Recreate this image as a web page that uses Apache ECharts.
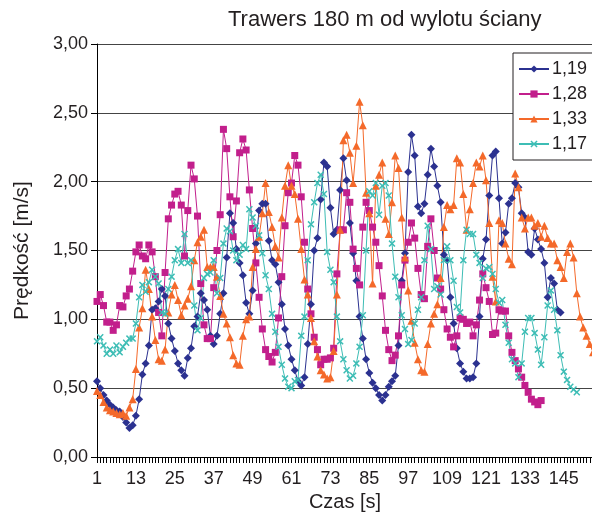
<!DOCTYPE html>
<html>
<head>
<meta charset="utf-8">
<script src="https://cdn.jsdelivr.net/npm/echarts@6/dist/echarts.min.js"></script>
<style>
  html, body { margin: 0; padding: 0; background: #fff; }
  #chart { width: 592px; height: 515px; }
</style>
</head>
<body>
<div id="chart"></div>
<script>
// dane - prędkość [m/s] w kolejnych sekundach
var s119 = [0.55, 0.50, 0.45, 0.41, 0.38, 0.36, 0.34, 0.33, 0.29, 0.25,
  0.21, 0.23, 0.30, 0.42, 0.60, 0.68, 0.81, 1.07, 1.08, 1.13,
  1.22, 1.17, 0.97, 0.86, 0.77, 0.68, 0.63, 0.59, 0.72, 0.79,
  0.95, 1.02, 1.19, 1.14, 1.07, 0.88, 0.82, 0.88, 1.04, 1.19,
  1.45, 1.77, 1.70, 1.51, 1.41, 1.32, 1.12, 1.04, 1.21, 1.55,
  1.79, 1.84, 1.84, 1.57, 1.43, 1.40, 1.27, 1.11, 0.93, 0.81,
  0.71, 0.63, 0.55, 0.52, 0.58, 0.82, 1.11, 1.50, 1.59, 1.87,
  2.14, 2.11, 1.81, 1.62, 1.65, 1.94, 2.17, 2.01, 1.70, 1.48,
  1.28, 1.02, 0.86, 0.71, 0.61, 0.54, 0.50, 0.45, 0.41, 0.45,
  0.51, 0.55, 0.59, 0.81, 1.28, 1.48, 2.07, 2.34, 2.19, 1.82,
  1.77, 1.84, 2.05, 2.24, 2.11, 1.97, 1.85, 1.47, 1.43, 1.16,
  0.97, 0.79, 0.68, 0.62, 0.57, 0.57, 0.58, 0.68, 1.02, 1.44,
  1.58, 1.90, 2.19, 2.22, 1.88, 1.55, 1.63, 1.84, 1.88, 1.99,
  1.96, 1.77, 1.74, 1.49, 1.47, 1.66, 1.58, 1.51, 1.41, 1.16,
  1.30, 1.26, 1.07, 1.05];

var s128 = [1.13, 1.18, 1.10, 0.98, 0.98, 0.92, 0.96, 1.10, 1.09, 1.17,
  1.22, 1.35, 1.49, 1.54, 1.46, 1.44, 1.54, 1.49, 1.31, 1.05,
  0.88, 1.34, 1.73, 1.83, 1.91, 1.93, 1.83, 1.46, 1.79, 2.12,
  2.02, 1.75, 1.26, 0.96, 0.86, 0.86, 1.23, 1.50, 1.76, 2.38,
  2.24, 1.89, 1.60, 1.86, 2.21, 2.31, 2.23, 1.94, 1.66, 1.41,
  1.16, 0.93, 0.78, 0.73, 0.69, 0.76, 1.01, 1.31, 1.68, 1.92,
  1.99, 2.19, 2.12, 1.89, 1.56, 1.22, 1.04, 0.87, 0.78, 0.67,
  0.71, 0.71, 0.72, 0.79, 1.33, 1.65, 1.65, 1.92, 1.85, 1.51,
  1.37, 1.25, 1.67, 1.85, 1.79, 1.67, 1.56, 1.39, 1.17, 0.92,
  0.78, 0.70, 0.74, 0.88, 1.25, 1.43, 1.56, 1.70, 1.59, 1.37,
  1.18, 1.15, 1.53, 1.73, 1.50, 1.30, 1.22, 1.07, 0.93, 0.87,
  0.80, 0.88, 1.01, 1.00, 0.97, 0.98, 0.88, 0.96, 1.14, 1.33,
  1.23, 1.13, 0.89, 0.90, 1.07, 1.06, 1.06, 0.88, 0.76, 0.70,
  0.64, 0.58, 0.52, 0.47, 0.42, 0.40, 0.38, 0.41];

var s133 = [0.48, 0.45, 0.40, 0.36, 0.34, 0.33, 0.32, 0.31, 0.32, 0.30,
  0.36, 0.42, 0.64, 0.94, 1.08, 1.36, 1.22, 1.02, 0.85, 0.71,
  0.70, 0.78, 1.05, 1.18, 1.25, 1.14, 1.03, 1.10, 1.15, 1.24,
  1.43, 1.56, 1.60, 1.65, 1.38, 1.38, 1.38, 1.31, 1.17, 1.04,
  0.97, 0.87, 0.74, 0.68, 0.67, 0.88, 1.00, 1.02, 1.38, 1.51,
  1.60, 1.77, 1.99, 1.78, 1.67, 1.53, 1.45, 1.74, 1.97, 2.12,
  1.97, 1.91, 1.73, 1.51, 1.29, 1.18, 1.01, 0.84, 0.73, 0.63,
  0.60, 0.57, 0.58, 0.77, 1.18, 1.65, 2.30, 2.34, 2.21, 1.99,
  2.26, 2.58, 2.41, 1.92, 1.77, 1.26, 1.97, 2.05, 2.14, 1.73,
  1.62, 1.85, 2.19, 2.10, 1.74, 1.45, 1.21, 0.99, 0.83, 0.71,
  0.63, 0.62, 0.82, 0.97, 1.04, 1.11, 1.30, 1.67, 1.83, 1.80,
  1.83, 2.17, 2.14, 1.91, 1.65, 1.80, 1.99, 2.14, 2.11, 2.19,
  2.01, 1.70, 1.31, 1.13, 1.72, 1.70, 1.55, 1.44, 1.40, 2.06,
  1.96, 1.74, 1.66, 1.74, 1.74, 1.68, 1.70, 1.60, 1.68, 1.59,
  1.55, 1.55, 1.43, 1.38, 1.30, 1.49, 1.55, 1.45, 1.19, 1.02,
  0.94, 0.88, 0.82, 0.76];

var s117 = [0.84, 0.87, 0.81, 0.75, 0.78, 0.75, 0.81, 0.76, 0.80, 0.83,
  0.86, 0.86, 0.97, 1.16, 1.25, 1.20, 1.27, 1.36, 1.31, 1.26,
  1.05, 1.04, 1.22, 1.31, 1.43, 1.51, 1.41, 1.62, 1.41, 1.43,
  1.10, 0.92, 1.01, 1.30, 1.33, 1.34, 1.43, 1.19, 1.30, 1.55,
  1.66, 1.64, 1.50, 1.43, 1.47, 1.54, 1.51, 1.80, 1.74, 1.68,
  1.61, 1.48, 1.32, 1.22, 1.04, 0.91, 0.80, 0.67, 0.57, 0.51,
  0.50, 0.55, 0.56, 0.88, 1.02, 1.43, 1.69, 1.85, 1.99, 2.05,
  1.91, 1.49, 1.36, 1.27, 1.02, 0.84, 0.71, 0.63, 0.57, 0.59,
  0.68, 0.80, 1.03, 1.50, 1.93, 1.90, 1.99, 1.76, 1.97, 1.99,
  1.90, 1.55, 1.31, 1.16, 1.03, 0.93, 0.82, 0.85, 0.97, 1.07,
  1.16, 1.43, 1.68, 1.51, 1.22, 1.24, 1.18, 1.43, 1.53, 1.43,
  1.28, 1.09, 1.05, 1.43, 1.65, 1.62, 1.62, 1.47, 1.41, 1.30,
  1.37, 1.38, 1.33, 1.22, 1.12, 1.14, 0.96, 0.83, 0.71, 0.68,
  0.58, 0.68, 0.91, 1.01, 1.01, 0.90, 0.78, 0.67, 0.87, 1.10,
  1.21, 1.07, 0.92, 0.74, 0.62, 0.56, 0.51, 0.49, 0.47];

var seriesNames = ['1,19', '1,28', '1,33', '1,17'];
var yTicks = [0, 0.5, 1, 1.5, 2, 2.5, 3];

// oś czasu 1..154 s
var czas = [];
for (var i = 1; i <= 154; i++) {
  czas.push(String(i));
}

var fontName = '"Liberation Sans", Arial, sans-serif';
var txtColor = '#231f20';
var crossPath = 'path://M0,1.5L1.5,0L5,3.5L8.5,0L10,1.5L6.5,5L10,8.5L8.5,10L5,6.5L1.5,10L0,8.5L3.5,5Z';

function liniaOpt(name, data, color, symbol, size) {
  return {
    name: name,
    type: 'line',
    data: data,
    symbol: symbol,
    symbolSize: size,
    showAllSymbol: true,
    lineStyle: { color: color, width: 1 },
    itemStyle: { color: color },
    emphasis: { disabled: true }
  };
}

var chart = echarts.init(document.getElementById('chart'));
var option = {
  animation: false,
  backgroundColor: '#fff',
  textStyle: { fontFamily: fontName, color: txtColor },
  title: {
    text: 'Trawers 180 m od wylotu ściany',
    left: 228,
    top: 9,
    padding: 0,
    textStyle: { fontFamily: fontName, fontSize: 22, fontWeight: 'normal', color: txtColor }
  },
  legend: {
    orient: 'vertical',
    left: 513,
    top: 53,
    padding: [7, 60, 7, 5],
    itemWidth: 30,
    itemHeight: 9,
    itemGap: 7,
    borderColor: '#231f20',
    borderWidth: 1,
    backgroundColor: '#fff',
    data: seriesNames,
    textStyle: { fontFamily: fontName, fontSize: 18, color: txtColor, padding: [0, 0, 0, -2] }
  },
  grid: {
    left: 97, top: 44, width: 496, height: 413,
    containLabel: false,
    outerBoundsMode: 'none'
  },
  xAxis: {
    type: 'category',
    data: czas,
    boundaryGap: false,
    name: 'Czas [s]',
    nameLocation: 'middle',
    nameGap: 32,
    nameTextStyle: { fontFamily: fontName, fontSize: 20, color: txtColor },
    axisLine: { lineStyle: { color: '#000', width: 1 } },
    axisTick: { show: true, interval: 0, length: 6, lineStyle: { color: '#000' } },
    axisLabel: { interval: 11, fontFamily: fontName, fontSize: 18, color: txtColor, margin: 13 },
    splitLine: { show: false }
  },
  yAxis: {
    type: 'value',
    min: yTicks[0],
    max: yTicks[yTicks.length - 1],
    interval: 0.5,
    name: 'Prędkość [m/s]',
    nameLocation: 'middle',
    nameGap: 64,
    nameTextStyle: { fontFamily: fontName, fontSize: 21, color: txtColor },
    axisLine: { show: true, lineStyle: { color: '#000', width: 1 } },
    axisTick: { show: true, length: 6, lineStyle: { color: '#000' } },
    axisLabel: {
      fontFamily: fontName, fontSize: 18, color: txtColor, margin: 9,
      formatter: function (v) { return v.toFixed(2).replace('.', ','); }
    },
    splitLine: { show: true, lineStyle: { color: '#444', width: 1 } }
  },
  series: [
    liniaOpt(seriesNames[0], s119, '#2b3190', 'diamond', 8),
    liniaOpt(seriesNames[1], s128, '#c21f8c', 'rect', 7),
    liniaOpt(seriesNames[2], s133, '#f4692a', 'triangle', 8),
    liniaOpt(seriesNames[3], s117, '#3dbdb5', crossPath, 7)
  ]
};
chart.setOption(option);
</script>
</body>
</html>
